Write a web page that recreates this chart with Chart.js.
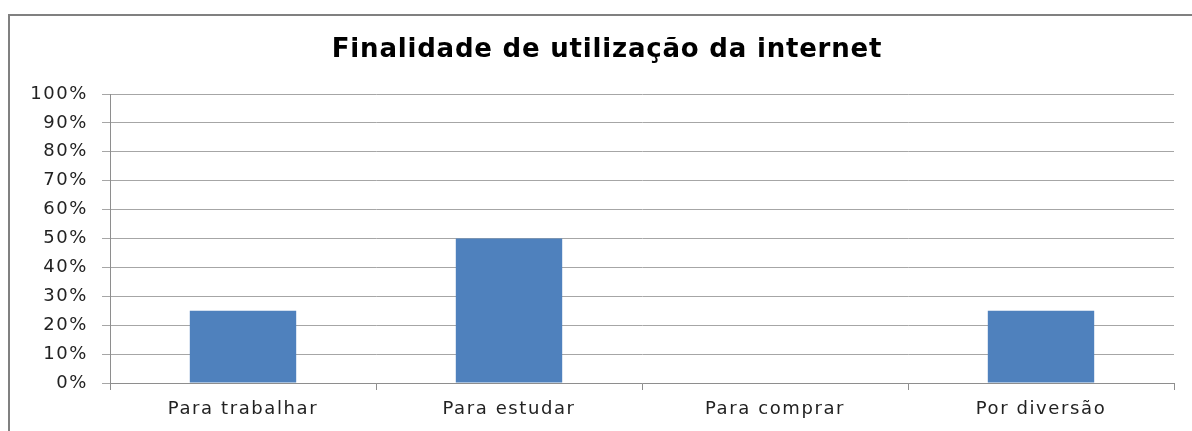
<!DOCTYPE html>
<html>
<head>
<meta charset="utf-8">
<script src="https://cdn.jsdelivr.net/npm/chart.js@4"></script>
<style>
  html, body { margin: 0; padding: 0; background: #fff; }
  #wrap { position: relative; width: 1192px; height: 431px; overflow: hidden; }
  #frame {
    position: absolute; left: 8px; top: 14px; width: 1300px; height: 500px;
    border-left: 2px solid #808080; border-top: 2px solid #808080;
  }
  #chart { position: absolute; left: 0; top: 0; }
</style>
</head>
<body>
<div id="wrap">
  <div id="frame"></div>
  <canvas id="chart" width="1192" height="431"></canvas>
</div>
<script>
const chartTitle = "Finalidade de utilização da internet";
const categories = ["Para trabalhar", "Para estudar", "Para comprar", "Por diversão"];
const percentValues = [25, 50, 0, 25];
const yTicks = [0, 10, 20, 30, 40, 50, 60, 70, 80, 90, 100];

const fontFamily = "'DejaVu Sans', Verdana, sans-serif";

// the original text is a bit wider than DejaVu, so spread the letters a little
const spacingPlugin = {
  id: "letterSpacing",
  beforeDraw(chart) {
    chart.ctx.letterSpacing = "1.6px";
  }
};

// Title drawn by hand so it sits where the original has it
const titlePlugin = {
  id: "customTitle",
  afterDraw(chart) {
    const ctx = chart.ctx;
    ctx.save();
    ctx.letterSpacing = "0.8px";
    ctx.font = "bold 26px " + fontFamily;
    ctx.fillStyle = "#000";
    ctx.textAlign = "center";
    ctx.textBaseline = "middle";
    ctx.fillText(chartTitle, 607, 50);
    ctx.restore();
  }
};

const ctx = document.getElementById("chart").getContext("2d");
new Chart(ctx, {
  type: "bar",
  data: {
    labels: categories,
    datasets: [
      {
        label: "Finalidade",
        data: percentValues,
        backgroundColor: "#4f81bd",
        borderWidth: 0,
        barPercentage: 0.5,
        categoryPercentage: 0.8,
      }
    ],
  },
  options: {
    responsive: false,
    animation: false,
    devicePixelRatio: 1,
    layout: {
      padding: { top: 94, right: 18, left: 0, bottom: 0 },
    },
    plugins: {
      legend: { display: false },
      title: { display: false },
      tooltip: { enabled: false },
    },
    scales: {
      x: {
        afterFit: (scale) => { scale.height = 48; },
        grid: {
          offset: true,
          drawOnChartArea: false,
          drawTicks: true,
          tickLength: 7,
          color: "#8e8e8e",
        },
        border: { color: "#8e8e8e", width: 1 },
        ticks: {
          padding: 9,
          color: "#222",
          font: { family: fontFamily, size: 18 },
        },
      },
      y: {
        min: 0,
        max: 100,
        afterFit: (scale) => { scale.width = 110; },
        afterBuildTicks: (scale) => {
          scale.ticks = yTicks.map((v) => ({ value: v }));
        },
        grid: {
          color: "#a6a6a6",
          tickLength: 8,
        },
        border: { color: "#8e8e8e", width: 1 },
        ticks: {
          padding: 14,
          color: "#222",
          font: { family: fontFamily, size: 18 },
          callback: (v) => v + "%",
        },
      },
    },
  },
  plugins: [spacingPlugin, titlePlugin],
});
</script>
</body>
</html>
